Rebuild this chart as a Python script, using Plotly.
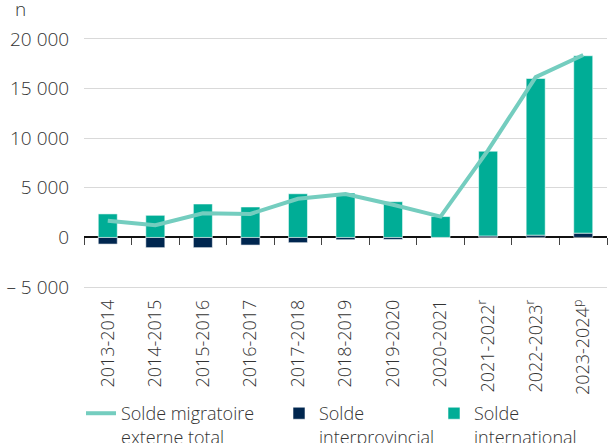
import plotly.graph_objects as go

# periods and values
periods = ["2013-2014", "2014-2015", "2015-2016", "2016-2017", "2017-2018",
           "2018-2019", "2019-2020", "2020-2021", "2021-2022<sup>r</sup>",
           "2022-2023<sup>r</sup>", "2023-2024<sup>p</sup>"]
solde_international = [2370, 2230, 3370, 3070, 4400, 4470, 3600, 2100, 8540, 15790, 17880]
solde_interprovincial = [-670, -1030, -1030, -770, -530, -230, -200, -20, 150, 230, 430]
solde_total = [1670, 1230, 2430, 2370, 3900, 4370, 3300, 2100, 8800, 16160, 18380]

y_ticks = [-5000, 0, 5000, 10000, 15000, 20000]
y_tick_text = ["\u2013 5 000", "0", "5 000", "10 000", "15 000", "20 000"]
y_range = [-5600, 20300]

FONT = "Open Sans"
TEXT = "#333333"
GRID = "#d9d9d9"
W, H = 616, 443
L, R = 84, 9

def px_x(px):
    # pixel position -> paper fraction
    return (px - L) / (W - L - R)

fig = go.Figure()

fig.add_trace(go.Bar(
    x=periods, y=solde_interprovincial, name="Solde<br>interprovincial",
    marker=dict(color="#00264f", line=dict(color="rgba(255,255,255,0.55)", width=1)),
    legend="legend2", showlegend=True,
))
fig.add_trace(go.Bar(
    x=periods, y=solde_international, name="Solde<br>international",
    marker=dict(color="#00ad96", line=dict(color="rgba(255,255,255,0.55)", width=1)),
    legend="legend3", showlegend=True,
))
# line on the second x axis (same categories) so the zero-line ticks get drawn
fig.add_trace(go.Scatter(
    x=periods, y=solde_total, name="Solde migratoire<br>externe total",
    mode="lines", line=dict(color="#74cdbf", width=4),
    xaxis="x2", legend="legend", showlegend=True,
))

zero_pos = (0 - y_range[0]) / (y_range[1] - y_range[0])

leg = dict(orientation="h", yanchor="top", y=-0.397, xanchor="left",
           bgcolor="rgba(0,0,0,0)", valign="top",
           font=dict(family=FONT, size=18, color=TEXT, weight=300))

fig.update_layout(
    width=W, height=H,
    margin=dict(l=L, r=R, t=36, b=150, autoexpand=False),
    plot_bgcolor="white", paper_bgcolor="white",
    barmode="relative", bargap=0.6, showlegend=True,
    font=dict(family=FONT, size=18, color=TEXT, weight=300),
    legend=dict(leg, x=px_x(81)),
    legend2=dict(leg, x=px_x(279)),
    legend3=dict(leg, x=px_x(434)),
    xaxis=dict(
        type="category", ticks="", tickangle=-90, ticklabelstandoff=2,
        tickfont=dict(family=FONT, size=18, color=TEXT, weight=300),
        showgrid=False, showline=False, zeroline=False,
    ),
    xaxis2=dict(
        type="category", matches="x", overlaying="x", anchor="free",
        position=zero_pos, showticklabels=False, showgrid=False,
        ticks="outside", tickson="boundaries", ticklen=7, tickcolor="#444444",
        showline=False, zeroline=False,
    ),
    yaxis=dict(
        range=y_range, tickvals=y_ticks, ticktext=y_tick_text,
        showgrid=True, gridcolor=GRID, gridwidth=1,
        zeroline=True, zerolinecolor="#111111", zerolinewidth=1.5,
        ticks="outside", ticklen=10, tickcolor="rgba(0,0,0,0)",
        tickfont=dict(family=FONT, size=19, color=TEXT, weight=300),
    ),
    annotations=[dict(
        text="n", xref="paper", yref="paper", x=px_x(13), y=1, yshift=12,
        xanchor="left", yanchor="bottom", showarrow=False,
        font=dict(family=FONT, size=19, color=TEXT, weight=300),
    )],
)

fig.write_html("out.html", config={"displayModeBar": False},
               post_script="document.body.style.margin='0';")
